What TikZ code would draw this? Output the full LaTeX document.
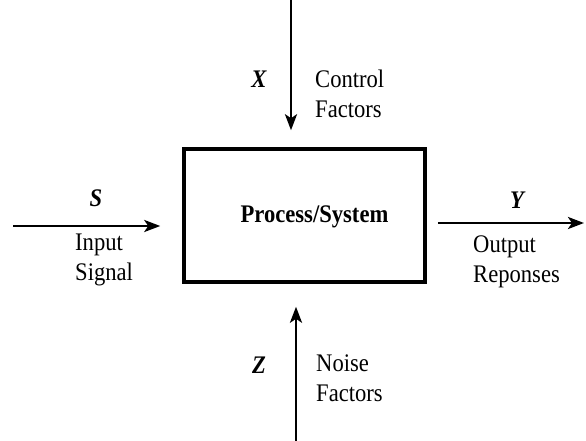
\documentclass[tikz,border=0pt]{standalone}
\usepackage{fontspec}
\setmainfont{Liberation Serif}
\usetikzlibrary{arrows.meta}
\begin{document}
\begin{tikzpicture}[x=1pt, y=-1pt,
  every node/.style={font=\fontsize{22.6}{27}\selectfont, inner sep=0pt},
  block/.style={rectangle, draw, line width=3.5pt, minimum width=241pt, minimum height=133pt},
  flow/.style={-{Stealth[length=16pt, width=12pt, inset=4pt]}, line width=2.8pt},
  var/.style={font=\fontsize{22.6}{27}\selectfont\bfseries\itshape, yscale=1.12},
  note/.style={align=left, anchor=west, yscale=1.12}]
\useasboundingbox (0,0) rectangle (586,441);
\node[block, label={[xshift=10pt, yshift=-1.5pt, yscale=1.12, font=\fontsize{22.6}{27}\selectfont\bfseries]center:Process/System}] (Process) at (304.5,215.5) {};

\coordinate (XStart) at (291,0);
\coordinate (ZStart) at (296,441);
\coordinate (SStart) at (13,226);
\coordinate (YEnd) at (584,223);

\draw[flow, shorten >=17pt] (XStart) -- (XStart |- Process.north);
\draw[flow, shorten >=23pt] (ZStart) -- (ZStart |- Process.south);
\draw[flow, shorten >=22pt] (SStart) -- (SStart -| Process.west);
\draw[flow, shorten <=11pt] (YEnd -| Process.east) -- (YEnd);

\node[var] (XLabel) at (259,79) {X};
\node[note] (Control) at (315,93.5) {Control\\Factors};
\node[var] (ZLabel) at (259,365) {Z};
\node[note] (Noise) at (316,378.5) {Noise\\Factors};
\node[var] (SLabel) at (96,198) {S};
\node[note] (Input) at (75,260) {Input\\Signal};
\node[var] (YLabel) at (517,200) {Y};
\node[note] (Output) at (473,261.5) {Output\\Reponses};
\end{tikzpicture}
\end{document}
